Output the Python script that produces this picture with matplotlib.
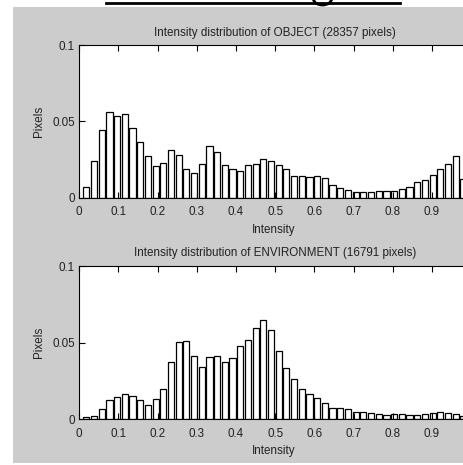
import numpy as np
import matplotlib.pyplot as plt
from matplotlib.patches import Rectangle, Arc
from matplotlib.lines import Line2D

plt.rcParams['font.family'] = ['Liberation Sans', 'DejaVu Sans']

# histogram bins (50 bins, centres)
bin_first, bin_last, n_bins = 0.0186, 0.980, 50
centers = np.linspace(bin_first, bin_last, n_bins)

# normalised pixel counts per bin
object_frac = [0.0070, 0.0239, 0.0443, 0.0561, 0.0537, 0.0546, 0.0456, 0.0364, 0.0274, 0.0208,
               0.0230, 0.0311, 0.0283, 0.0189, 0.0164, 0.0224, 0.0340, 0.0298, 0.0217, 0.0189,
               0.0173, 0.0217, 0.0224, 0.0254, 0.0239, 0.0215, 0.0186, 0.0143, 0.0143, 0.0136,
               0.0143, 0.0129, 0.0083, 0.0064, 0.0048, 0.0039, 0.0039, 0.0039, 0.0046, 0.0046,
               0.0046, 0.0055, 0.0070, 0.0101, 0.0114, 0.0151, 0.0186, 0.0224, 0.0274, 0.0121]

environment_frac = [0.0013, 0.0024, 0.0068, 0.0124, 0.0146, 0.0162, 0.0153, 0.0124, 0.0096, 0.0133,
                    0.0197, 0.0371, 0.0502, 0.0509, 0.0415, 0.0341, 0.0408, 0.0415, 0.0371, 0.0400,
                    0.0480, 0.0515, 0.0596, 0.0646, 0.0581, 0.0443, 0.0334, 0.0262, 0.0197, 0.0166,
                    0.0138, 0.0107, 0.0074, 0.0074, 0.0068, 0.0050, 0.0050, 0.0044, 0.0037, 0.0031,
                    0.0037, 0.0037, 0.0031, 0.0031, 0.0037, 0.0044, 0.0050, 0.0044, 0.0037, 0.0024]

titles = ['Intensity distribution of OBJECT (28357 pixels)',
          'Intensity distribution of ENVIRONMENT (16791 pixels)']
xticks = [0, 0.1, 0.2, 0.3, 0.4, 0.5, 0.6, 0.7, 0.8, 0.9, 1.0]
# the '1' label falls outside the cropped picture
xticklabels = ['0', '0.1', '0.2', '0.3', '0.4', '0.5', '0.6', '0.7', '0.8', '0.9', '']
yticks = [0, 0.05, 0.1]
yticklabels = ['0', '0.05', '0.1']

W, H = 463, 465
fig = plt.figure(figsize=(W / 100, H / 100), dpi=100)
fig.patch.set_facecolor('white')

# grey MATLAB-style figure area
fig.patches.append(Rectangle((13 / W, 2 / H), (W - 13) / W, (H - 9) / H,
                             transform=fig.transFigure, facecolor='#cccccc',
                             edgecolor='none', zorder=-5))
# remnant of heading above the figure
fig.add_artist(Line2D([106 / W, 400 / W], [1 - 3 / H, 1 - 3 / H], color='black',
                      linewidth=2.0, transform=fig.transFigure))
fig.add_artist(Arc((3.225, (H + 1) / 100), 0.18, 0.12, theta1=180, theta2=360,
                   transform=fig.dpi_scale_trans, color='black', linewidth=2.0))

text_color = '#222222'
ax_left, ax_width = 79.1 / W, 392.1 / W
positions = [(197.7, 152.4), (419.3, 153.3)]

for (base_px, h_px), title, vals in zip(positions, titles, [object_frac, environment_frac]):
    ax = fig.add_axes([ax_left, 1 - base_px / H, ax_width, h_px / H])
    ax.set_zorder(1)
    ax.bar(centers, vals, width=0.8 * (centers[1] - centers[0]), color='white',
           edgecolor='black', linewidth=0.9)
    ax.set_xlim(0, 1)
    ax.set_ylim(0, 0.1)
    ax.set_xticks(xticks)
    ax.set_xticklabels(xticklabels)
    ax.set_yticks(yticks)
    ax.set_yticklabels(yticklabels)
    ax.tick_params(direction='in', length=4, width=0.8, top=True, right=True,
                   labelsize=8.4, colors='black', labelcolor=text_color)
    ax.tick_params(axis='x', pad=6)
    ax.tick_params(axis='y', pad=3)
    for s in ax.spines.values():
        s.set_linewidth(0.8)
    ax.set_title(title, fontsize=8.4, color=text_color, pad=7)
    ax.set_xlabel('Intensity', fontsize=8.4, color=text_color)
    ax.set_ylabel('Pixels', fontsize=8.4, color=text_color)
    ax.xaxis.set_label_coords(0.495, -0.17)
    ax.yaxis.set_label_coords(-0.088, 0.5)

fig.savefig('out.png', dpi=100)
